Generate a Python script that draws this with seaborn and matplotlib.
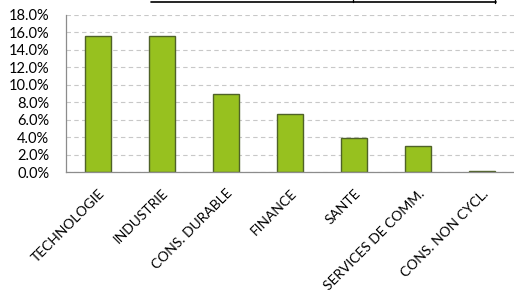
import numpy as np
import pandas as pd
import matplotlib
matplotlib.use('Agg')
import matplotlib.pyplot as plt
from matplotlib.ticker import FuncFormatter, FixedLocator
import seaborn as sns

# ── Data ─────────────────────────────────────────────────────────────
sectors = ['TECHNOLOGIE', 'INDUSTRIE', 'CONS. DURABLE', 'FINANCE', 'SANTE',
           'SERVICES DE COMM.', 'CONS. NON CYCL.']
weights = [15.6, 15.6, 9.0, 6.6, 3.95, 2.95, 0.15]

df = pd.DataFrame({'sector': sectors, 'weight': weights})

sns.set_style('white')
plt.rcParams['font.family'] = ['Lato', 'DejaVu Sans']

fig = plt.figure(figsize=(5.14, 2.90), dpi=100)
ax = fig.add_axes([66/514, 1 - 172/290, 448/514, 157/290])

sns.barplot(data=df, x='sector', y='weight', color='#97C11F',
            edgecolor='#4F6228', linewidth=1.0, width=0.4, saturation=1, ax=ax)

ax.set_ylim(0, 18)
ax.set_xlim(-0.5, len(sectors) - 0.5)
ax.set_yticks(np.arange(0, 18.1, 2))
ax.yaxis.set_major_formatter(FuncFormatter(lambda v, p: f'{v:.1f}%'))
ax.grid(axis='y', color='#C8C8C8', linestyle=(0, (4, 3)), linewidth=0.8)
ax.set_axisbelow(True)
ax.set_xlabel(''); ax.set_ylabel('')

for s in ['top', 'right']:
    ax.spines[s].set_visible(False)
for s in ['left', 'bottom']:
    ax.spines[s].set_color('#8C8C8C')
    ax.spines[s].set_linewidth(0.9)

# category ticks on boundaries, labels at centers
ax.xaxis.set_major_locator(FixedLocator(np.arange(len(sectors))))
ax.set_xticklabels(sectors, rotation=45, ha='right', rotation_mode='anchor',
                   fontsize=10, color='#000000')
ax.tick_params(axis='x', which='major', length=0, pad=11)
ax.xaxis.set_minor_locator(FixedLocator(np.arange(len(sectors) + 1) - 0.5))
ax.tick_params(axis='x', which='minor', length=5, color='#8C8C8C', width=0.9)
ax.tick_params(axis='y', length=5, color='#8C8C8C', width=0.9,
               labelsize=10.5, labelcolor='#000000', pad=7)

# frame fragment from the table above (cropped)
fig.add_artist(plt.Line2D([151/514, 496/514], [1 - 1.5/290, 1 - 1.5/290],
                          color='black', lw=1.2))
fig.add_artist(plt.Line2D([353/514, 353/514], [1, 1 - 2/290], color='black', lw=1))
fig.add_artist(plt.Line2D([495/514, 495/514], [1, 1 - 3/290], color='black', lw=1))

fig.savefig('out.png', dpi=100)
